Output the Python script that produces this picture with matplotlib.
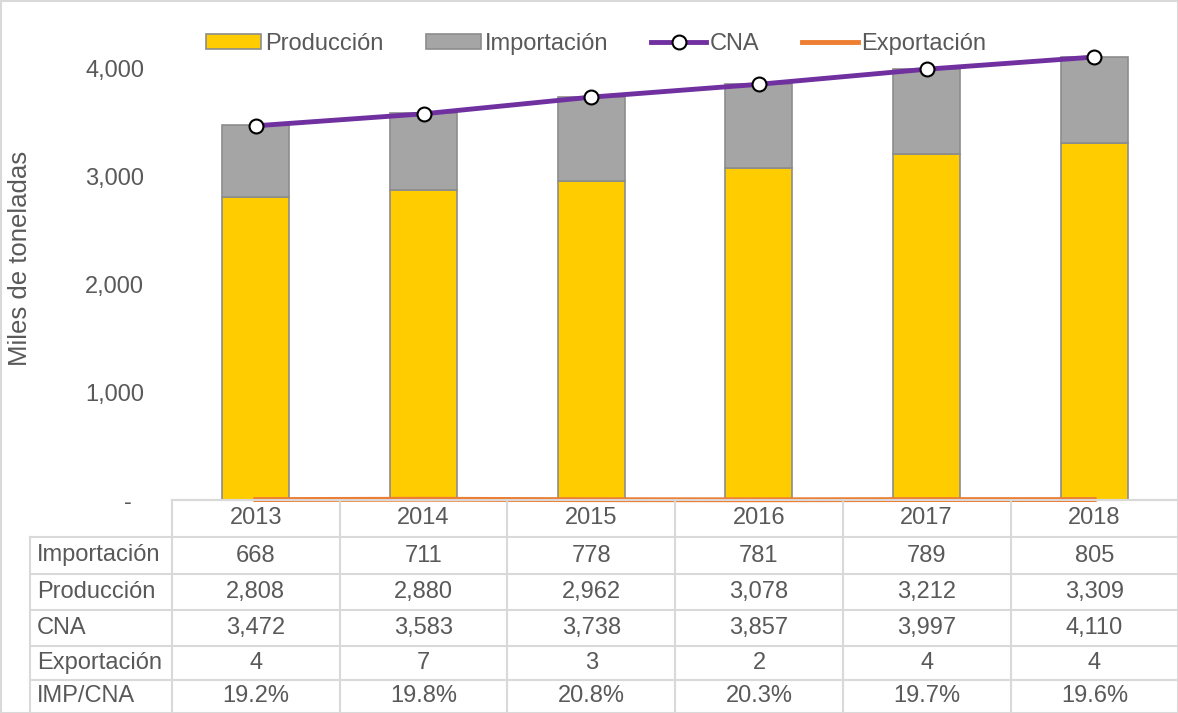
import numpy as np
import matplotlib.pyplot as plt
from matplotlib.lines import Line2D
from matplotlib.patches import Rectangle
import matplotlib.transforms as mtransforms

plt.rcParams['font.family'] = ['Liberation Sans', 'DejaVu Sans']

years = ['2013', '2014', '2015', '2016', '2017', '2018']
importacion = [668, 711, 778, 781, 789, 805]
produccion = [2808, 2880, 2962, 3078, 3212, 3309]
cna = [3472, 3583, 3738, 3857, 3997, 4110]
exportacion = [4, 7, 3, 2, 4, 4]
imp_cna = ['19.2%', '19.8%', '20.8%', '20.3%', '19.7%', '19.6%']

W, H = 1178, 713
txt = '#595959'
grid_c = '#D9D9D9'
fs = 17

fig = plt.figure(figsize=(W / 100, H / 100), dpi=100)
ax = fig.add_axes([172 / W, 1 - 500 / H, 1006 / W, 485 / H])

x = np.arange(len(years))
b1 = ax.bar(x, produccion, width=0.4, color='#FFCC00', edgecolor='#8C8C8C', linewidth=1.2, label='Producción', zorder=2)
b2 = ax.bar(x, importacion, width=0.4, bottom=produccion, color='#A5A5A5', edgecolor='#8C8C8C', linewidth=1.2,
            label='Importación', zorder=2)
l1, = ax.plot(x, cna, color='#7030A0', lw=3.5, marker='o', ms=10, mfc='white', mec='black', mew=1.5,
              label='CNA', zorder=4)
l2, = ax.plot(x, exportacion, color='#ED7D31', lw=3.5, label='Exportación', zorder=3, clip_on=False)

ax.set_xlim(-0.5, len(years) - 0.5)
ax.set_ylim(0, 4500)
ax.set_yticks([0, 1000, 2000, 3000, 4000])
ax.set_yticklabels(['-', '1,000', '2,000', '3,000', '4,000'])
ax.tick_params(axis='y', length=0, pad=20, labelsize=fs, labelcolor=txt)
ax.set_xticks([])
for s in ['top', 'right', 'left']:
    ax.spines[s].set_visible(False)
ax.spines['bottom'].set_color(grid_c)
ax.spines['bottom'].set_linewidth(1.5)
# the "-" for zero sits a little more to the left
zl = ax.get_yticklabels()[0]
zl.set_transform(zl.get_transform() + mtransforms.ScaledTranslation(-0.12, 0, fig.dpi_scale_trans))

fig.text(20 / W, 1 - 258 / H, 'Miles de toneladas', rotation=90, ha='center', va='center', fontsize=18.5, color=txt)

ax.legend(handles=[b1, b2, l1, l2], loc='center', bbox_to_anchor=(596 / W, 1 - 44 / H),
          bbox_transform=fig.transFigure, ncol=4, frameon=False, fontsize=fs, labelcolor=txt,
          handlelength=2.35, handleheight=0.6, handletextpad=0.15, columnspacing=1.8)

# data table under the chart
def fx(px):
    return px / W

def fy(py):
    return 1 - py / H

def hline(x0, x1, py):
    fig.add_artist(Line2D([fx(x0), fx(x1)], [fy(py), fy(py)], color=grid_c, lw=1.5))

def vline(px, y0, y1):
    fig.add_artist(Line2D([fx(px), fx(px)], [fy(y0), fy(y1)], color=grid_c, lw=1.5))

rows_y = [500, 537, 574, 610, 646, 680, 713]
col_x = [172 + 167.7 * i for i in range(len(years) + 1)]

hline(172, W, rows_y[0])
for py in rows_y[1:-1]:
    hline(30, W, py)
vline(30, rows_y[1], H)
for px in col_x[:-1]:
    vline(px, rows_y[0], H)

row_names = ['Importación', 'Producción', 'CNA', 'Exportación', 'IMP/CNA']
row_vals = [
    [f'{v:,}' for v in importacion],
    [f'{v:,}' for v in produccion],
    [f'{v:,}' for v in cna],
    [f'{v:,}' for v in exportacion],
    imp_cna,
]

for j, yr in enumerate(years):
    cx = (col_x[j] + col_x[j + 1]) / 2
    fig.text(fx(cx), fy((rows_y[0] + rows_y[1]) / 2), yr, ha='center', va='center', fontsize=fs, color=txt)
for i, name in enumerate(row_names):
    cy = (rows_y[i + 1] + rows_y[i + 2]) / 2
    fig.text(fx(37), fy(cy), name, ha='left', va='center', fontsize=fs, color=txt)
    for j, v in enumerate(row_vals[i]):
        cx = (col_x[j] + col_x[j + 1]) / 2
        fig.text(fx(cx), fy(cy), v, ha='center', va='center', fontsize=fs, color=txt)

fig.add_artist(Rectangle((0.5 / W, 0.5 / H), 1 - 1 / W, 1 - 1 / H, transform=fig.transFigure,
                         fill=False, edgecolor=grid_c, lw=1.5))

fig.savefig('out.png', dpi=100)
